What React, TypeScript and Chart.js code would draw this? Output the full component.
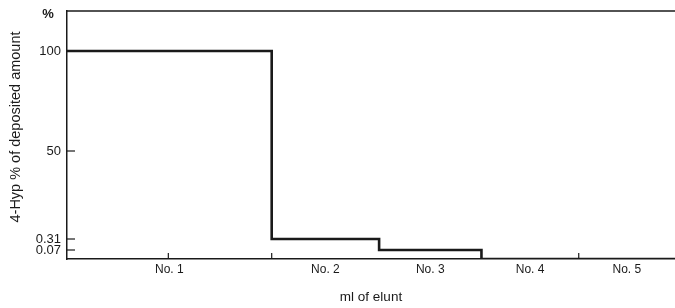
import React, { useEffect, useRef } from "react";
import { Chart, registerables, LinearScale } from "chart.js";

// Fractions and their boundaries (ml of eluent)
const fractionLabels = ["No. 1", "No. 2", "No. 3", "No. 4", "No. 5"];
const fractionStarts = [0, 2.02, 3.08, 4.09, 5.05];
const fractionEnd = 6;
// 4-Hyp % of deposited amount recovered in each fraction
const hypPercent = [100, 0.31, 0.07, 0, 0];

// y-axis tick values/labels
const yTickValues = [0.07, 0.31, 50, 100];
const yTickLabels = ["0.07", "0.31", "50", "100"];
// x-axis small tick marks (ml)
const xTickMarks = [1, 2.02, 5.05];

// broken (piecewise linear) y-axis definition: value -> relative display units
const breakValues = [0, 0.07, 0.31, 50, 120];
const breakDisplay = [0, 9, 20, 108, 248];

function toDisplay(v: number): number {
  for (let i = 1; i < breakValues.length; i++) {
    if (v <= breakValues[i] || i === breakValues.length - 1) {
      const a = breakValues[i - 1], b = breakValues[i];
      const da = breakDisplay[i - 1], db = breakDisplay[i];
      return da + ((v - a) / (b - a)) * (db - da);
    }
  }
  return 0;
}
function fromDisplay(d: number): number {
  for (let i = 1; i < breakDisplay.length; i++) {
    if (d <= breakDisplay[i] || i === breakDisplay.length - 1) {
      const a = breakDisplay[i - 1], b = breakDisplay[i];
      const va = breakValues[i - 1], vb = breakValues[i];
      return va + ((d - a) / (b - a)) * (vb - va);
    }
  }
  return 0;
}

class BrokenScale extends (LinearScale as any) {
  static id = "broken";
  static defaults = (LinearScale as any).defaults;
  buildTicks() {
    return yTickValues.map((v) => ({ value: v }));
  }
  getPixelForValue(value: number) {
    if (value === null || value === undefined || isNaN(value)) return NaN;
    const d0 = toDisplay(this.min);
    const d1 = toDisplay(this.max);
    return this.getPixelForDecimal((toDisplay(value) - d0) / (d1 - d0));
  }
  getValueForPixel(pixel: number) {
    const d0 = toDisplay(this.min);
    const d1 = toDisplay(this.max);
    return fromDisplay(d0 + this.getDecimalForPixel(pixel) * (d1 - d0));
  }
}

Chart.register(...registerables, BrokenScale as any);

const FONT = "'Liberation Sans', Arial, Helvetica, sans-serif";
const INK = "#1a1a1a";

const framePlugin = {
  id: "frame",
  afterDraw(chart: any) {
    const { ctx, chartArea } = chart;
    const xs = chart.scales.x;
    const ys = chart.scales.y;
    ctx.save();
    ctx.strokeStyle = INK;
    ctx.lineWidth = 1.5;
    // top frame line
    ctx.beginPath();
    ctx.moveTo(chartArea.left, chartArea.top);
    ctx.lineTo(chartArea.right, chartArea.top);
    ctx.stroke();
    // inward y ticks
    ctx.lineWidth = 1.2;
    yTickValues.forEach((v) => {
      const y = ys.getPixelForValue(v);
      ctx.beginPath();
      ctx.moveTo(chartArea.left, y);
      ctx.lineTo(chartArea.left + 8, y);
      ctx.stroke();
    });
    // inward x ticks
    xTickMarks.forEach((v) => {
      const x = xs.getPixelForValue(v);
      ctx.beginPath();
      ctx.moveTo(x, chartArea.bottom);
      ctx.lineTo(x, chartArea.bottom - 6);
      ctx.stroke();
    });
    // unit label
    ctx.fillStyle = INK;
    ctx.font = `bold 13px ${FONT}`;
    ctx.textAlign = "center";
    ctx.textBaseline = "middle";
    ctx.fillText("%", chartArea.left - 19, chartArea.top + 3);
    // y-axis title
    ctx.font = `14.5px ${FONT}`;
    ctx.translate(16, 127);
    ctx.rotate(-Math.PI / 2);
    ctx.fillText("4-Hyp % of deposited amount", 0, 0);
    ctx.restore();
  },
};

export default function App() {
  const ref = useRef<HTMLCanvasElement>(null);
  useEffect(() => {
    document.body.style.margin = "0";
    const points = fractionStarts.map((x, i) => ({ x, y: hypPercent[i] }));
    points.push({ x: fractionEnd, y: hypPercent[hypPercent.length - 1] });
    const labelPos = fractionStarts.map((s, i) =>
      (s + (i + 1 < fractionStarts.length ? fractionStarts[i + 1] : fractionEnd)) / 2
    );
    const chart = new Chart(ref.current as HTMLCanvasElement, {
      type: "line",
      data: {
        datasets: [
          {
            data: points,
            stepped: "before",
            borderColor: INK,
            borderWidth: 2.6,
            pointRadius: 0,
            fill: false,
          },
        ],
      },
      options: {
        animation: false,
        responsive: false,
        layout: { padding: { top: 11, right: 0, bottom: 0, left: 0 } },
        plugins: { legend: { display: false }, tooltip: { enabled: false } },
        scales: {
          x: {
            type: "linear",
            min: 0,
            max: fractionEnd,
            afterBuildTicks: (scale: any) => {
              scale.ticks = labelPos.map((v) => ({ value: v }));
            },
            afterFit: (scale: any) => {
              scale.height = 49;
              scale.paddingLeft = 0;
              scale.paddingRight = 0;
            },
            ticks: {
              autoSkip: false,
              maxRotation: 0,
              padding: 3,
              color: INK,
              font: { family: FONT, size: 12 },
              callback: (_v: any, i: number) => fractionLabels[i],
            },
            grid: { display: false, drawTicks: false },
            border: { display: true, color: INK, width: 1.5 },
            title: {
              display: true,
              text: "ml of elunt",
              color: INK,
              font: { family: FONT, size: 13.5 },
              padding: { top: 0, bottom: 3 },
            },
          },
          y: {
            type: "broken" as any,
            min: 0,
            max: 120,
            afterFit: (scale: any) => {
              scale.width = 67;
              scale.paddingTop = 0;
              scale.paddingBottom = 0;
            },
            ticks: {
              autoSkip: false,
              padding: 6,
              color: INK,
              font: { family: FONT, size: 13 },
              callback: (v: any) => {
                const i = yTickValues.indexOf(Number(v));
                return i >= 0 ? yTickLabels[i] : "";
              },
            },
            grid: { display: false, drawTicks: false },
            border: { display: true, color: INK, width: 1.5 },
          },
        } as any,
      },
      plugins: [framePlugin],
    });
    return () => chart.destroy();
  }, []);
  return <canvas ref={ref} width={675} height={308} style={{ display: "block" }} />;
}
